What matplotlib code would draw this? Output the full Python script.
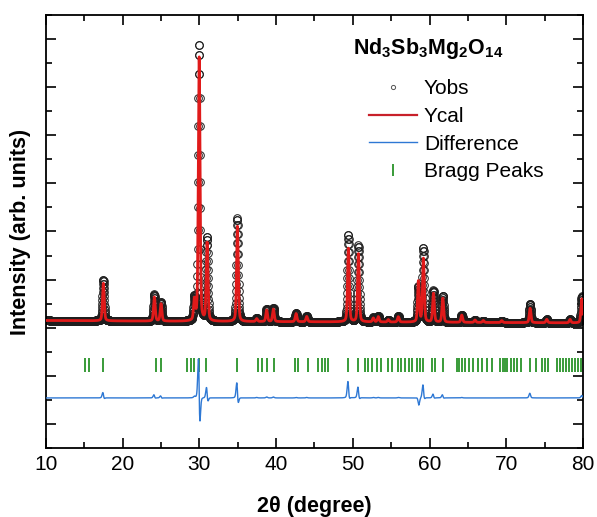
import numpy as np
import matplotlib.pyplot as plt
from matplotlib.lines import Line2D
from matplotlib.ticker import MultipleLocator

plt.rcParams['font.family'] = ['Liberation Sans', 'DejaVu Sans']
plt.rcParams['mathtext.fontset'] = 'custom'
plt.rcParams['mathtext.rm'] = 'Liberation Sans'
plt.rcParams['mathtext.bf'] = 'Liberation Sans:bold'

# scan range and step (2theta, degree)
scan_start, scan_end, scan_step = 10.0, 80.0, 0.02

# background read along the flat parts of the pattern
bg_x = [10, 30, 50, 80]
bg_y = [2.15, 2.13, 2.12, 2.10]

peak_pos = [17.47, 24.12, 24.99, 29.35, 29.95, 30.99, 34.94, 37.47, 38.77, 39.64,
            42.60, 43.99, 49.41, 50.72, 52.67, 53.32, 54.63, 55.93, 58.54, 59.19,
            60.50, 61.72, 64.20, 65.93, 67.01, 69.41, 73.10, 75.28, 78.32, 79.84]
peak_obs = [0.86, 0.55, 0.39, 0.45, 5.75, 1.74, 2.15, 0.07, 0.26, 0.28,
            0.18, 0.12, 1.80, 1.59, 0.09, 0.12, 0.05, 0.12, 0.72, 1.53,
            0.66, 0.55, 0.16, 0.05, 0.04, 0.04, 0.39, 0.07, 0.07, 0.55]
peak_cal = [0.78, 0.50, 0.36, 0.42, 5.50, 1.62, 1.98, 0.06, 0.24, 0.26,
            0.17, 0.11, 1.53, 1.42, 0.08, 0.11, 0.05, 0.11, 0.85, 1.32,
            0.60, 0.50, 0.15, 0.05, 0.04, 0.04, 0.30, 0.07, 0.07, 0.50]
peak_shift = [0.012, 0.010, 0.010, 0.0, 0.022, 0.015, 0.018, 0.0, 0.0, 0.0,
              0.0, 0.0, 0.015, 0.012, 0.0, 0.0, 0.0, 0.0, 0.012, 0.015,
              0.010, 0.010, 0.0, 0.0, 0.0, 0.0, 0.012, 0.0, 0.0, 0.0]
peak_fwhm = 0.26

# Bragg reflection markers
bragg_pos = [15.08, 15.65, 17.47, 24.34, 24.99, 28.42, 28.87, 29.30, 29.95, 30.86,
             34.94, 37.68, 38.20, 38.77, 39.73, 42.46, 42.89, 44.12, 45.50, 45.95,
             46.38, 46.81, 49.41, 50.64, 51.59, 52.02, 52.46, 53.12, 53.68, 54.63,
             55.07, 55.93, 56.28, 56.81, 57.33, 57.76, 58.33, 58.76, 59.19, 60.29,
             60.72, 61.80, 63.55, 63.89, 64.20, 64.63, 65.19, 65.71, 66.36, 66.81,
             67.46, 68.11, 69.19, 69.54, 69.84, 70.14, 70.59, 71.02, 71.45, 71.89,
             73.10, 73.89, 74.63, 75.06, 75.49, 76.62, 77.01, 77.41, 77.80, 78.19,
             78.58, 78.97, 79.36, 79.75]
bragg_low, bragg_high = 1.08, 1.37
diff_offset = 0.54


def pseudo_voigt(x, x0, fwhm, eta=0.35):
    s = fwhm / 2.3548
    g = np.exp(-0.5 * ((x - x0) / s) ** 2)
    l = 1.0 / (1.0 + ((x - x0) / (fwhm / 2)) ** 2)
    return eta * l + (1 - eta) * g


tth = np.arange(scan_start, scan_end + scan_step / 2, scan_step)
bg = np.interp(tth, bg_x, bg_y)
y_obs = bg.copy()
y_cal = bg.copy()
for p, ho, hc, sh in zip(peak_pos, peak_obs, peak_cal, peak_shift):
    y_obs += ho * pseudo_voigt(tth, p, peak_fwhm)
    y_cal += hc * pseudo_voigt(tth, p + sh, peak_fwhm)
y_diff = y_obs - y_cal + diff_offset

fig = plt.figure(figsize=(5.97, 5.17), dpi=100)
ax = fig.add_axes([0.077, 0.1335, 0.8995, 0.8375])

ax.plot(tth, y_obs, 'o', mfc='none', mec='#1e1e1e', ms=5.5, mew=0.7, zorder=2)
ax.plot(tth, y_cal, color='#e01a1a', lw=2.0, zorder=3)
ax.plot(tth, y_diff, color='#2e78d4', lw=1.0, zorder=3)
ax.vlines(bragg_pos, bragg_low, bragg_high, color='#178a17', lw=1.2, zorder=2)

ax.set_xlim(10, 80)
ax.set_ylim(-0.5, 8.5)
ax.xaxis.set_major_locator(MultipleLocator(10))
ax.xaxis.set_minor_locator(MultipleLocator(5))
ax.yaxis.set_major_locator(MultipleLocator(1))
ax.yaxis.set_minor_locator(MultipleLocator(0.5))
ax.set_yticklabels([])
ax.tick_params(which='both', direction='in', top=True, right=True, width=1.2)
ax.tick_params(which='major', length=7, labelsize=15, pad=5)
ax.tick_params(which='minor', length=4)
for sp in ax.spines.values():
    sp.set_linewidth(1.3)

ax.set_xlabel('2θ (degree)', fontsize=15.5, fontweight='bold', labelpad=16)
ax.set_ylabel('Intensity (arb. units)', fontsize=15.5, fontweight='bold', labelpad=6)

ax.text(0.572, 0.922, r'$\mathbf{Nd_3Sb_3Mg_2O_{14}}$', transform=ax.transAxes,
        fontsize=15.5, ha='left', va='center')

handles = [
    Line2D([], [], ls='none', marker='o', mfc='none', mec='#555555', ms=3, mew=0.7),
    Line2D([], [], color='#c8202a', lw=1.6),
    Line2D([], [], color='#2e78d4', lw=1.0),
    Line2D([], [], ls='none', marker='|', color='#178a17', ms=9, mew=1.2),
]
labels = ['Yobs', 'Ycal', 'Difference', 'Bragg Peaks']
ax.legend(handles, labels, loc='upper left', bbox_to_anchor=(0.601, 0.852),
          frameon=False, fontsize=15, handlelength=2.3, handletextpad=0.35,
          labelspacing=0.42, borderpad=0, borderaxespad=0)

fig.savefig('out.png', dpi=100)
